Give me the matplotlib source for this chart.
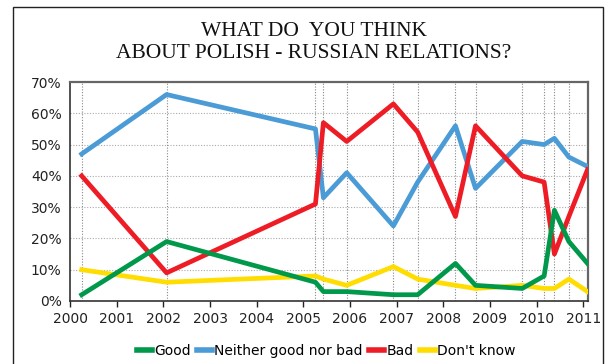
import matplotlib.pyplot as plt
from matplotlib.lines import Line2D

# survey dates (decimal years) and answers in %
dates = [2000.25, 2002.07, 2005.26, 2005.43, 2005.93, 2006.93, 2007.45,
         2008.26, 2008.69, 2009.69, 2010.16, 2010.38, 2010.69, 2011.09]
good = [2, 19, 6, 3, 3, 2, 2, 12, 5, 4, 8, 29, 19, 12]
neither = [47, 66, 55, 33, 41, 24, 38, 56, 36, 51, 50, 52, 46, 43]
bad = [40, 9, 31, 57, 51, 63, 54, 27, 56, 40, 38, 15, 27, 42]
dont_know = [10, 6, 8, 7, 5, 11, 7, 5, 4, 5, 4, 4, 7, 3]

years = list(range(2000, 2012))
pct_ticks = [0, 10, 20, 30, 40, 50, 60, 70]

c_good = '#00984a'
c_neither = '#4a9bd6'
c_bad = '#ee1c25'
c_dk = '#ffdd00'

fig = plt.figure(figsize=(6.13, 3.64), dpi=100)
ax = fig.add_axes([0.1142, 0.1731, 0.845, 0.6016])

# vertical dotted lines at each survey date
for d in dates:
    ax.axvline(d, color='#888888', ls=(0, (1, 1.5)), lw=0.8, zorder=1)
for p in pct_ticks[1:-1]:
    ax.axhline(p, color='#aaaaaa', ls=(0, (1, 1.5)), lw=0.8, zorder=1)

lw = 3.4
ax.plot(dates, neither, color=c_neither, lw=lw, zorder=3)
ax.plot(dates, bad, color=c_bad, lw=lw, zorder=4)
ax.plot(dates, dont_know, color=c_dk, lw=lw, zorder=3)
ax.plot(dates, good, color=c_good, lw=lw, zorder=4)

ax.set_xlim(2000, 2011.1)
ax.set_ylim(0, 70)
ax.set_xticks(years)
ax.set_xticklabels([str(y) for y in years])
ax.set_yticks(pct_ticks)
ax.set_yticklabels(['%d%%' % p for p in pct_ticks])
ax.tick_params(axis='x', direction='out', length=4, width=1, labelsize=10, pad=4, colors='#222222')
ax.tick_params(axis='y', length=0, labelsize=10, pad=6, colors='#222222')
for s in ['left', 'bottom']:
    ax.spines[s].set_color('#333333')
    ax.spines[s].set_linewidth(1.2)
for s in ['top', 'right']:
    ax.spines[s].set_color('#666666')
    ax.spines[s].set_linewidth(1.6)

fig.text(0.512, 0.883, 'WHAT DO  YOU THINK\nABOUT POLISH - RUSSIAN RELATIONS?',
         ha='center', va='center', family='Liberation Serif', fontsize=15.5,
         linespacing=1.22, color='#111111')

handles = [Line2D([], [], color=c_good, lw=4),
           Line2D([], [], color=c_neither, lw=4),
           Line2D([], [], color=c_bad, lw=4),
           Line2D([], [], color=c_dk, lw=4)]
labels = ['Good', 'Neither good nor bad', 'Bad', "Don't know"]
fig.legend(handles, labels, loc='center', bbox_to_anchor=(0.532, 0.035), ncol=4,
           frameon=False, fontsize=10, handlelength=1.1, handletextpad=0.15,
           columnspacing=0.45)

# outer frame of the chart box
frame = plt.Rectangle((13 / 613, -0.05), 590 / 613, 1 - 7 / 364 + 0.05,
                      transform=fig.transFigure, fill=False, ec='#222222', lw=1.0)
fig.patches.append(frame)

fig.savefig('out.png', dpi=100)
